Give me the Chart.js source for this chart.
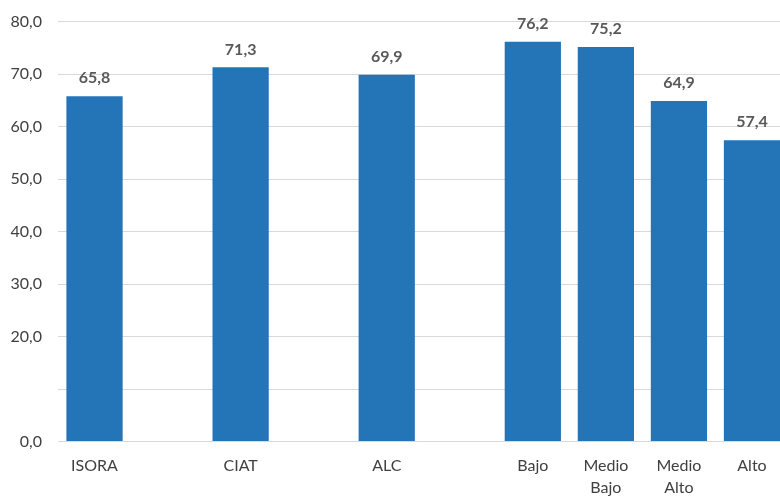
<!DOCTYPE html>
<html>
<head>
<meta charset="utf-8">
<script src="https://cdn.jsdelivr.net/npm/chart.js@4"></script>
<style>
  html, body { margin: 0; padding: 0; background: #fff; overflow: hidden; }
  #wrap { width: 790px; height: 499px; }
</style>
</head>
<body>
<div id="wrap"><canvas id="chart" width="790" height="499"></canvas></div>
<script>
// categories (empty slots keep the gaps between groups)
var categories = ['ISORA', '', 'CIAT', '', 'ALC', '', 'Bajo', ['Medio', 'Bajo'], ['Medio', 'Alto'], 'Alto'];
var values = [65.8, null, 71.3, null, 69.9, null, 76.2, 75.2, 64.9, 57.4];
var yTicks = [0, 10, 20, 30, 40, 50, 60, 70, 80];
var hiddenTicks = [10];

function fmt(v) {
    return v.toFixed(1).replace('.', ',');
}

// draws the value above each bar
var valueLabels = {
    id: 'valueLabels',
    afterDatasetsDraw: function(chart) {
        var ctx = chart.ctx;
        var meta = chart.getDatasetMeta(0);
        ctx.save();
        ctx.font = 'bold 16px Lato';
        ctx.fillStyle = '#595959';
        ctx.textAlign = 'center';
        ctx.textBaseline = 'bottom';
        meta.data.forEach(function(bar, i) {
            if (values[i] == null) return;
            ctx.fillText(fmt(values[i]), bar.x, bar.y - 10);
        });
        ctx.restore();
    }
};

document.addEventListener("DOMContentLoaded", function() {
    var ctx = document.getElementById('chart').getContext('2d');
    new Chart(ctx, {
        type: 'bar',
        data: {
            labels: categories,
            datasets: [{
                data: values,
                backgroundColor: '#2474b8',
                borderWidth: 0,
                categoryPercentage: 1,
                barPercentage: 0.77
            }]
        },
        plugins: [valueLabels],
        options: {
            responsive: false,
            animation: false,
            layout: { padding: { left: 10, right: 1.5, top: 21.7, bottom: 0 } },
            plugins: {
                legend: { display: false },
                tooltip: { enabled: false }
            },
            scales: {
                x: {
                    afterFit: function(axis) {
                        axis.height = 57.5;
                        axis.paddingLeft = 0;
                        axis.paddingRight = 0;
                    },
                    grid: { display: false, drawTicks: false },
                    border: { display: false },
                    ticks: {
                        color: '#404040',
                        font: { family: 'Lato', size: 16, lineHeight: 1.35 },
                        padding: 14,
                        autoSkip: false,
                        maxRotation: 0
                    }
                },
                y: {
                    min: 0,
                    max: 80,
                    afterFit: function(axis) {
                        axis.width = 48;
                        axis.paddingTop = 0;
                        axis.paddingBottom = 0;
                    },
                    afterBuildTicks: function(axis) {
                        axis.ticks = yTicks.map(function(v) { return { value: v }; });
                    },
                    grid: { color: '#d9d9d9', lineWidth: 1, drawTicks: false },
                    border: { display: false },
                    ticks: {
                        color: '#404040',
                        font: { family: 'Lato', size: 16 },
                        padding: 16,
                        callback: function(v) {
                            return hiddenTicks.indexOf(v) >= 0 ? '' : fmt(v);
                        }
                    }
                }
            }
        }
    });
});
</script>
</body>
</html>
